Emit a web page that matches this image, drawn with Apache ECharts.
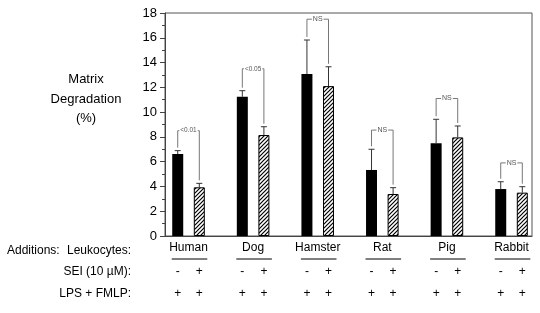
<!DOCTYPE html>
<html>
<head>
<meta charset="utf-8">
<script src="https://cdn.jsdelivr.net/npm/echarts@6/dist/echarts.min.js"></script>
<style>
    html, body { margin: 0; background: #fff; }
    #chart { width: 540px; height: 313px; }
</style>
</head>
<body>
<div id="chart"></div>
<script>
// data
const species = ['Human', 'Dog', 'Hamster', 'Rat', 'Pig', 'Rabbit'];
const ctlMean = [6.62, 11.24, 13.07, 5.33, 7.48, 3.79];   // SEI -
const ctlSem = [0.27, 0.49, 2.75, 1.67, 1.94, 0.59];
const seiMean = [3.93, 8.15, 12.1, 3.39, 7.96, 3.5];      // SEI +
const seiSem = [0.32, 0.67, 1.56, 0.51, 0.92, 0.48];
const pTop = [8.5, 13.5, 17.5, 8.55, 11.1, 5.9];          // bracket height
const pText = ['<0.01', '<0.05', 'NS', 'NS', 'NS', 'NS'];
const seiSigns = ['-', '+'];
const lpsSigns = ['+', '+'];

const OFF = 0.167; // half distance between the two bars of a group (axis units)
const FONT = 'Liberation Sans, Arial, sans-serif';

// hatch pattern for SEI bars
const pat = document.createElement('canvas');
pat.width = 4; pat.height = 4;
const pc = pat.getContext('2d');
pc.fillStyle = '#fff';
pc.fillRect(0, 0, 4, 4);
pc.strokeStyle = '#000';
pc.lineWidth = 1.2;
pc.beginPath();
pc.moveTo(0, 4); pc.lineTo(4, 0);
pc.moveTo(-1, 1); pc.lineTo(1, -1);
pc.moveTo(3, 5); pc.lineTo(5, 3);
pc.stroke();

const myChart = echarts.init(document.getElementById('chart'));

const rowText = (t, x, y, align) => ({
    type: 'text', x: x, y: y,
    style: { text: t, fontSize: 12, fontFamily: FONT, fill: '#000', align: align, verticalAlign: 'middle' }
});

const option = {
    animation: false,
    grid: {
        left: 165, top: 13, width: 367, height: 223,
        show: true, borderColor: '#555', borderWidth: 1
    },
    xAxis: {
        type: 'value',
        min: 0.636, max: 6.317,
        axisLine: { show: true, lineStyle: { color: '#444' } },
        axisTick: { show: false },
        axisLabel: { show: false },
        splitLine: { show: false }
    },
    yAxis: {
        type: 'value',
        min: 0, max: 18, interval: 2,
        axisLine: { show: true, lineStyle: { color: '#444' } },
        axisTick: { show: true, length: 5, lineStyle: { color: '#444' } },
        minorTick: { show: true, splitNumber: 2, length: 3, lineStyle: { color: '#444' } },
        axisLabel: { color: '#000', fontSize: 13, fontFamily: FONT, margin: 8 },
        splitLine: { show: false }
    },
    graphic: [
        {
            type: 'text', x: 86, y: 99,
            style: {
                text: 'Matrix\nDegradation\n(%)', fontSize: 13, fontFamily: FONT,
                fill: '#000', align: 'center', verticalAlign: 'middle', lineHeight: 19.5
            }
        },
        rowText('Additions:', 7, 251, 'left'),
        rowText('Leukocytes:', 131, 251, 'right'),
        rowText('SEI (10 \u00b5M):', 131, 272, 'right'),
        rowText('LPS + FMLP:', 131, 294, 'right')
    ],
    series: [
        {
            name: 'control',
            type: 'bar',
            barWidth: 11,
            barGap: '-100%',
            itemStyle: { color: '#000' },
            data: ctlMean.map((v, i) => [i + 1 - OFF, v])
        },
        {
            name: 'SEI',
            type: 'bar',
            barWidth: 11,
            barGap: '-100%',
            itemStyle: { color: { image: pat, repeat: 'repeat' }, borderColor: '#000', borderWidth: 1 },
            data: seiMean.map((v, i) => [i + 1 + OFF, v])
        },
        {
            // error bars + significance brackets
            type: 'custom',
            clip: false,
            z: 5,
            data: species.map((s, i) => [i + 1, pTop[i]]),
            renderItem: (params, api) => {
                const i = params.dataIndex;
                const x = i + 1;
                const pC = api.coord([x - OFF, ctlMean[i]]);
                const pCt = api.coord([x - OFF, ctlMean[i] + ctlSem[i]]);
                const pS = api.coord([x + OFF, seiMean[i]]);
                const pSt = api.coord([x + OFF, seiMean[i] + seiSem[i]]);
                const yTop = api.coord([x, pTop[i]])[1];
                const err = { stroke: '#333', lineWidth: 1 };
                const br = { stroke: '#777', lineWidth: 1 };
                const xm = (pCt[0] + pSt[0]) / 2;
                return {
                    type: 'group',
                    children: [
                        { type: 'line', shape: { x1: pC[0], y1: pC[1], x2: pCt[0], y2: pCt[1] }, style: err },
                        { type: 'line', shape: { x1: pCt[0] - 3, y1: pCt[1], x2: pCt[0] + 3, y2: pCt[1] }, style: err },
                        { type: 'line', shape: { x1: pS[0], y1: pS[1], x2: pSt[0], y2: pSt[1] }, style: err },
                        { type: 'line', shape: { x1: pSt[0] - 3, y1: pSt[1], x2: pSt[0] + 3, y2: pSt[1] }, style: err },
                        {
                            type: 'polyline',
                            shape: { points: [[pCt[0], pCt[1] - 3], [pCt[0], yTop], [pSt[0], yTop], [pSt[0], pSt[1] - 3]] },
                            style: { ...br, fill: null }
                        },
                        {
                            type: 'text', x: xm, y: yTop,
                            style: {
                                text: pText[i], fontSize: pText[i] === 'NS' ? 7 : 6.5, fontFamily: FONT, fill: '#555',
                                align: 'center', verticalAlign: 'middle',
                                backgroundColor: '#fff', padding: [0, 1]
                            }
                        }
                    ]
                };
            }
        },
        {
            // additions table under the axis
            type: 'custom',
            clip: false,
            silent: true,
            data: species.map((s, i) => [i + 1, 0]),
            renderItem: (params, api) => {
                const i = params.dataIndex;
                const x = i + 1;
                const y0 = api.coord([x, 0])[1];
                const xc = api.coord([x - OFF, 0])[0];
                const xs = api.coord([x + OFF, 0])[0];
                const xm = api.coord([x, 0])[0];
                return {
                    type: 'group',
                    children: [
                        rowText(species[i], xm, y0 + 12, 'center'),
                        { type: 'line', shape: { x1: xc - 6, y1: y0 + 23, x2: xs + 8, y2: y0 + 23 }, style: { stroke: '#000', lineWidth: 1 } },
                        rowText(seiSigns[0], xc, y0 + 36, 'center'),
                        rowText(seiSigns[1], xs, y0 + 36, 'center'),
                        rowText(lpsSigns[0], xc, y0 + 58, 'center'),
                        rowText(lpsSigns[1], xs, y0 + 58, 'center')
                    ]
                };
            }
        }
    ]
};

myChart.setOption(option);
</script>
</body>
</html>
